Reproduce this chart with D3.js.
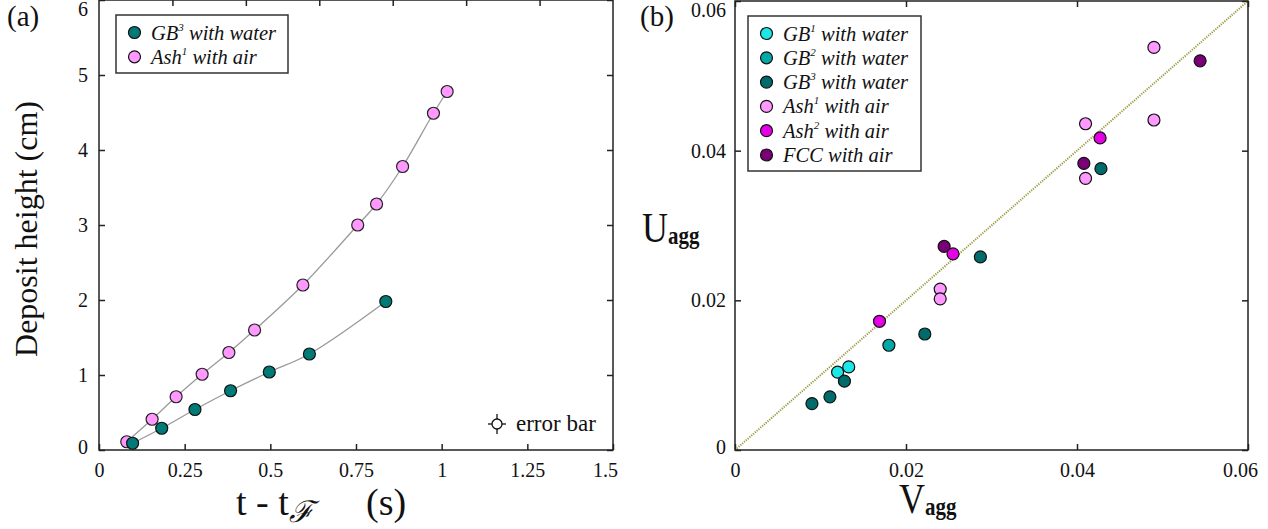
<!DOCTYPE html>
<html>
<head>
<meta charset="utf-8">
<script src="https://cdnjs.cloudflare.com/ajax/libs/d3/7.8.5/d3.min.js"></script>
<style>
  body { margin: 0; background: #fff; }
  svg text { font-family: "Liberation Serif", "Times New Roman", serif; fill: #111; }
</style>
</head>
<body>
<script>
var svgWidth = 1268;
var svgHeight = 529;

// panel (a) data: deposit height vs time
var ashTime = [0.081, 0.155, 0.225, 0.301, 0.379, 0.454, 0.595, 0.755, 0.810, 0.886, 0.976, 1.016];
var ashHeight = [0.11, 0.41, 0.71, 1.01, 1.30, 1.60, 2.20, 3.00, 3.28, 3.78, 4.49, 4.78];
var gbTime = [0.098, 0.183, 0.280, 0.384, 0.497, 0.614, 0.837];
var gbHeight = [0.09, 0.29, 0.54, 0.79, 1.04, 1.28, 1.98];
var xTicksA = [0, 0.25, 0.5, 0.75, 1, 1.25, 1.5];
var yTicksA = [0, 1, 2, 3, 4, 5, 6];

// panel (b) data: U_agg vs V_agg
var seriesNames = ["GB1", "GB2", "GB3", "Ash1", "Ash2", "FCC"];
var seriesColors = ["#1de6e6", "#00a8a8", "#006b6b", "#ff99ff", "#e600e6", "#7a0078"];
var vGB1 = [0.0120, 0.0133];
var uGB1 = [0.0104, 0.0111];
var vGB2 = [0.0180];
var uGB2 = [0.0140];
var vGB3 = [0.0090, 0.0111, 0.0128, 0.0222, 0.0287, 0.0428];
var uGB3 = [0.0062, 0.0071, 0.0092, 0.0155, 0.0258, 0.0376];
var vAsh1 = [0.0240, 0.0240, 0.0410, 0.0410, 0.0490, 0.0490];
var uAsh1 = [0.0215, 0.0202, 0.0436, 0.0363, 0.0441, 0.0538];
var vAsh2 = [0.0169, 0.0255, 0.0427];
var uAsh2 = [0.0172, 0.0262, 0.0417];
var vFCC = [0.02446, 0.0408, 0.0544];
var uFCC = [0.0272, 0.0383, 0.0520];
var ticksB = [0, 0.02, 0.04, 0.06];

var svg = d3.select("body").append("svg")
  .attr("width", svgWidth)
  .attr("height", svgHeight);

var fmtB = function(d) { return d === 0 ? "0" : d3.format(".2f")(d); };

function frame(g, w, h) {
  g.append("rect")
    .attr("x", 0).attr("y", 0)
    .attr("width", w).attr("height", h)
    .attr("fill", "none")
    .attr("stroke", "#222")
    .attr("stroke-width", 1.5);
}

function tickStyle(sel) {
  sel.attr("font-family", null).attr("font-size", null);
  sel.select(".domain").remove();
  sel.selectAll("line").attr("stroke", "#222").attr("stroke-width", 1.5);
  sel.selectAll("text")
    .attr("font-family", "Liberation Serif")
    .attr("font-size", 20)
    .attr("fill", "#111");
}

function drawAxes(g, x, y, w, h, xt, yt, fx, fy, yPad) {
  var xMax = d3.max(xt), yMax = d3.max(yt);
  g.append("g")
    .attr("transform", `translate(0,${h})`)
    .call(d3.axisBottom(x).tickValues(xt).tickFormat(fx).tickSizeInner(-6).tickSizeOuter(0).tickPadding(13))
    .call(tickStyle)
    .selectAll("text")
    .attr("dx", function(d) { return d === xMax ? -8 : 0; });
  g.append("g")
    .call(d3.axisLeft(y).tickValues(yt).tickFormat(fy).tickSizeInner(-6).tickSizeOuter(0).tickPadding(yPad))
    .call(tickStyle)
    .selectAll("text")
    .attr("dy", function(d) { return d === yMax ? "0.78em" : (d === 0 ? "0.15em" : "0.32em"); });
  g.append("g")
    .attr("transform", `translate(${w},0)`)
    .call(d3.axisRight(y).tickValues(yt).tickFormat("").tickSizeInner(-6).tickSizeOuter(0))
    .call(tickStyle);
}

// ---------- panel (a) ----------
var aLeft = 99, aTop = 0, aW = 514, aH = 450;
var gA = svg.append("g").attr("transform", `translate(${aLeft},${aTop})`);

var xA = d3.scaleLinear().domain([0, 1.5]).range([0, aW]);
var yA = d3.scaleLinear().domain([0, 6]).range([aH, 0]);

drawAxes(gA, xA, yA, aW, aH, xTicksA, yTicksA, function(d) { return String(d); }, function(d) { return String(d); }, 11);

// top axis of (a) has its own 7 equal divisions
var topA = d3.scaleLinear().domain([0, 7]).range([0, aW]);
gA.append("g")
  .call(d3.axisTop(topA).tickValues([1, 2, 3, 4, 5, 6]).tickFormat("").tickSizeInner(-6).tickSizeOuter(0))
  .call(tickStyle);

frame(gA, aW, aH);

var lineA = d3.line()
  .x(function(d) { return xA(d[0]); })
  .y(function(d) { return yA(d[1]); })
  .curve(d3.curveCatmullRom);

var ashPts = d3.zip(ashTime, ashHeight);
var gbPts = d3.zip(gbTime, gbHeight);

gA.append("path").attr("d", lineA(ashPts))
  .attr("fill", "none").attr("stroke", "#9a9a9a").attr("stroke-width", 1.3);
gA.append("path").attr("d", lineA(gbPts))
  .attr("fill", "none").attr("stroke", "#9a9a9a").attr("stroke-width", 1.3);

gA.selectAll(".ash").data(ashPts).enter().append("circle")
  .attr("cx", function(d) { return xA(d[0]); })
  .attr("cy", function(d) { return yA(d[1]); })
  .attr("r", 6)
  .attr("fill", "#ff99ff").attr("stroke", "#222").attr("stroke-width", 1.2);
gA.selectAll(".gb").data(gbPts).enter().append("circle")
  .attr("cx", function(d) { return xA(d[0]); })
  .attr("cy", function(d) { return yA(d[1]); })
  .attr("r", 6)
  .attr("fill", "#007a76").attr("stroke", "#111").attr("stroke-width", 1.2);

// legends
function legend(g, x, y, w, h, items) {
  g.append("rect").attr("x", x).attr("y", y).attr("width", w).attr("height", h)
    .attr("fill", "#fff").attr("stroke", "#333").attr("stroke-width", 1.5);
  items.forEach(function(it, i) {
    var cy = y + 17.5 + i * 24.3;
    g.append("circle").attr("cx", x + 18.5).attr("cy", cy).attr("r", 6)
      .attr("fill", it.color).attr("stroke", "#111").attr("stroke-width", 1.2);
    var t = g.append("text").attr("x", x + 35).attr("y", cy + 7)
      .style("font-size", "20.5px").style("font-style", "italic");
    t.append("tspan").text(it.base);
    if (it.sup) t.append("tspan").attr("dy", -9).style("font-size", "11px").text(it.sup);
    t.append("tspan").attr("dy", it.sup ? 9 : 0).text(" " + it.rest);
  });
}

legend(svg, 116, 15, 172, 58, [
  { color: "#007a76", base: "GB", sup: "3", rest: "with water" },
  { color: "#ff99ff", base: "Ash", sup: "1", rest: "with air" }
]);

// error bar glyph
var eb = svg.append("g").attr("transform", "translate(497,424)");
eb.append("line").attr("x1", -9).attr("x2", 9).attr("y1", 0).attr("y2", 0).attr("stroke", "#111").attr("stroke-width", 1.3);
eb.append("line").attr("x1", 0).attr("x2", 0).attr("y1", -10).attr("y2", 10).attr("stroke", "#111").attr("stroke-width", 1.3);
eb.append("circle").attr("r", 5).attr("fill", "#fff").attr("stroke", "#111").attr("stroke-width", 1.3);
svg.append("text").attr("x", 516).attr("y", 431).style("font-size", "23px").text("error bar");

// axis titles (a)
var xtA = svg.append("text").attr("x", 236).attr("y", 515).style("font-size", "38px");
xtA.append("tspan").text("t - t");
xtA.append("tspan").attr("dy", 7).style("font-size", "30px").style("font-style", "italic").text("\u2131");
xtA.append("tspan").attr("x", 366).attr("dy", -7).text("(s)");

svg.append("text")
  .attr("transform", "translate(37,229) rotate(-90)")
  .attr("text-anchor", "middle")
  .style("font-size", "32px")
  .text("Deposit height (cm)");

svg.append("text").attr("x", 7).attr("y", 26).style("font-size", "29px").text("(a)");

// ---------- panel (b) ----------
var bLeft = 735, bTop = 1, bW = 513, bH = 449;
var gB = svg.append("g").attr("transform", `translate(${bLeft},${bTop})`);

var xB = d3.scaleLinear().domain([0, 0.06]).range([0, bW]);
var yB = d3.scaleLinear().domain([0, 0.06]).range([bH, 0]);

drawAxes(gB, xB, yB, bW, bH, ticksB, ticksB, fmtB, fmtB, 9);
gB.append("g")
  .call(d3.axisTop(xB).tickValues(ticksB).tickFormat("").tickSizeInner(-6).tickSizeOuter(0))
  .call(tickStyle);

// y = x reference line
gB.append("line")
  .attr("x1", xB(0)).attr("y1", yB(0))
  .attr("x2", xB(0.06)).attr("y2", yB(0.06))
  .attr("stroke", "#9a9a40").attr("stroke-width", 2)
  .attr("stroke-dasharray", "1.2,1.2");

frame(gB, bW, bH);

var seriesV = [vGB1, vGB2, vGB3, vAsh1, vFCC, vAsh2];
var seriesU = [uGB1, uGB2, uGB3, uAsh1, uFCC, uAsh2];
var drawColors = [seriesColors[0], seriesColors[1], seriesColors[2], seriesColors[3], seriesColors[5], seriesColors[4]];

seriesV.forEach(function(vs, i) {
  var pts = d3.zip(vs, seriesU[i]);
  gB.selectAll(".s" + i).data(pts).enter().append("circle")
    .attr("class", "s" + i)
    .attr("cx", function(d) { return xB(d[0]); })
    .attr("cy", function(d) { return yB(d[1]); })
    .attr("r", 6)
    .attr("fill", drawColors[i])
    .attr("stroke", "#111").attr("stroke-width", 1.2);
});

legend(svg, 748, 16, 173, 155, [
  { color: seriesColors[0], base: "GB", sup: "1", rest: "with water" },
  { color: seriesColors[1], base: "GB", sup: "2", rest: "with water" },
  { color: seriesColors[2], base: "GB", sup: "3", rest: "with water" },
  { color: seriesColors[3], base: "Ash", sup: "1", rest: "with air" },
  { color: seriesColors[4], base: "Ash", sup: "2", rest: "with air" },
  { color: seriesColors[5], base: "FCC", sup: "", rest: "with air" }
]);

// axis titles (b)
function bigLabel(x, y, main, sub) {
  var t = svg.append("text")
    .attr("transform", `translate(${x},${y}) scale(1,1.15)`);
  t.append("tspan").style("font-size", "36px").text(main);
  t.append("tspan").attr("dy", 2).style("font-size", "21px").style("font-weight", "bold").text(sub);
}
bigLabel(642, 242, "U", "agg");
bigLabel(899, 513, "V", "agg");

svg.append("text").attr("x", 640).attr("y", 26).style("font-size", "29px").text("(b)");
</script>
</body>
</html>
